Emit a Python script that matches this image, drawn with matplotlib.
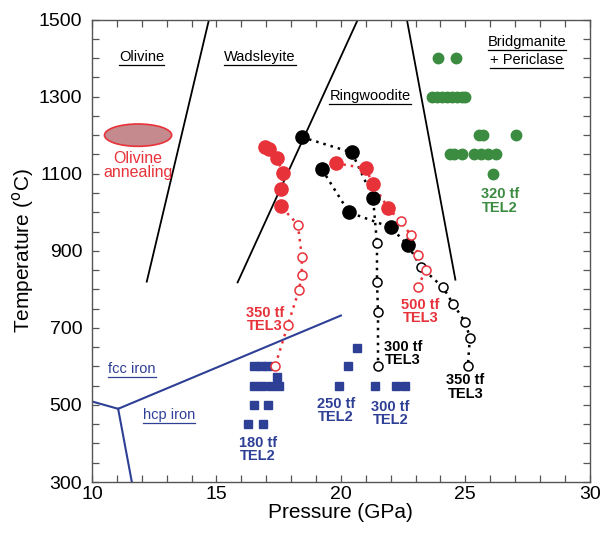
import numpy as np
import matplotlib.pyplot as plt
from matplotlib.patches import Ellipse
from matplotlib.lines import Line2D
from matplotlib.ticker import MultipleLocator

plt.rcParams['font.family'] = ['Liberation Sans', 'DejaVu Sans']

red = '#e8323a'
green = '#3b8b41'
blue = '#2e3f96'

# phase boundaries of olivine (P in GPa, T in C)
ol_wd_P = [12.2, 14.7]
ol_wd_T = [820, 1500]
wd_rw_P = [15.85, 20.68]
wd_rw_T = [818, 1500]
rw_bm_P = [22.65, 24.6]
rw_bm_T = [1500, 825]

# iron phase lines
iron_left_P = [10.0, 11.05]
iron_left_T = [509, 490]
iron_fcc_P = [11.05, 20.0]
iron_fcc_T = [490, 732]
iron_down_P = [11.05, 11.6]
iron_down_T = [490, 300]

# 350 tf TEL3 (red)
r350_P = [16.95, 17.1, 17.43, 17.67, 17.59, 17.59, 18.27, 18.43, 18.43, 18.31, 17.87, 17.35]
r350_T = [1168, 1163, 1140, 1101, 1059, 1015, 968, 885, 838, 797, 708, 600]
r350_nfill = 6

# 500 tf TEL3 (red)
r500_P = [19.8, 21.0, 21.29, 21.89, 22.4, 22.8, 23.1, 23.4, 23.1]
r500_T = [1127, 1114, 1072, 1012, 976, 942, 890, 851, 805]
r500_nfill = 4

# 300 tf TEL3 (black)
k300_P = [18.43, 20.44, 21.29, 21.45, 21.45, 21.49, 21.49]
k300_T = [1195, 1155, 1038, 919, 820, 742, 600]
k300_nfill = 3

# 350 tf TEL3 (black)
k350_P = [19.24, 20.32, 22.0, 22.7, 23.2, 24.1, 24.5, 25.0, 25.18, 25.1]
k350_T = [1111, 1000, 961, 914, 859, 805, 763, 714, 675, 600]
k350_nfill = 4

# 320 tf TEL2 (green)
g320_P = [23.9, 24.62,
          23.65, 23.85, 24.05, 24.25, 24.45, 24.65, 24.85, 25.0,
          25.54, 25.7, 27.05,
          24.4, 24.55, 24.86, 25.34, 25.62, 25.9, 26.22,
          26.1]
g320_T = [1400, 1400,
          1300, 1300, 1300, 1300, 1300, 1300, 1300, 1300,
          1200, 1200, 1200,
          1150, 1150, 1150, 1150, 1150, 1150, 1150,
          1100]

# TEL2 runs (blue)
b180_P = [16.51, 16.79, 17.07, 17.43, 16.51, 16.83, 17.19, 17.51, 16.51, 17.07, 16.27, 16.87]
b180_T = [600, 600, 600, 573, 550, 550, 550, 550, 500, 500, 450, 450]
b250_P = [20.64, 20.28, 19.92]
b250_T = [648, 600, 550]
b300_P = [21.37, 22.2, 22.57]
b300_T = [550, 550, 550]

fig = plt.figure(figsize=(6.03, 5.35), dpi=100)
ax = fig.add_axes([0.1526, 0.099, 0.8255, 0.8645])

ax.plot(ol_wd_P, ol_wd_T, '-k', lw=1.3)
ax.plot(wd_rw_P, wd_rw_T, '-k', lw=1.3)
ax.plot(rw_bm_P, rw_bm_T, '-k', lw=1.3)
ax.plot(iron_left_P, iron_left_T, '-', color=blue, lw=1.5)
ax.plot(iron_fcc_P, iron_fcc_T, '-', color=blue, lw=1.5)
ax.plot(iron_down_P, iron_down_T, '-', color=blue, lw=1.5)

ax.add_patch(Ellipse((11.85, 1200), 2.7, 58, facecolor='#c48a8d', edgecolor=red, lw=1.2))


def run(P, T, n, c):
    ax.plot(P, T, ls=(0, (1, 2)), color=c, lw=1.8, zorder=3)
    ax.plot(P[:n], T[:n], 'o', color=c, ms=9.5, mec=c, zorder=4)
    ax.plot(P[n:], T[n:], 'o', mfc='white', mec=c, ms=6.5, mew=1.1, zorder=4)


run(r350_P, r350_T, r350_nfill, red)
run(k300_P, k300_T, k300_nfill, 'k')
run(k350_P, k350_T, k350_nfill, 'k')
run(r500_P, r500_T, r500_nfill, red)

ax.plot(g320_P, g320_T, 'o', color=green, ms=7.5, ls='')
for P, T in [(b180_P, b180_T), (b250_P, b250_T), (b300_P, b300_T)]:
    ax.plot(P, T, 's', color=blue, ms=6, ls='')

ax.set_xlim(10, 30)
ax.set_ylim(300, 1500)
ax.set_xticks([10, 15, 20, 25, 30])
ax.set_yticks(range(300, 1501, 200))
ax.xaxis.set_minor_locator(MultipleLocator(1))
ax.yaxis.set_minor_locator(MultipleLocator(50))
ax.tick_params(which='both', direction='in', top=True, right=True, length=5, width=0.9,
               color='#555555', labelsize=14)
ax.tick_params(axis='x', pad=3)
ax.tick_params(axis='y', pad=7)
for s in ax.spines.values():
    s.set_color('#555555')
    s.set_linewidth(1.0)
ax.set_xlabel('Pressure (GPa)', fontsize=15, labelpad=0)
ax.set_ylabel('Temperature ($^{\\rm o}$C)', fontsize=15, labelpad=2)

# phase names, underlined
ul = []
ul.append(ax.text(12.0, 1402, 'Olivine', fontsize=10.5, ha='center', va='center'))
ul.append(ax.text(16.75, 1404, 'Wadsleyite', fontsize=10.5, ha='center', va='center'))
ul.append(ax.text(21.17, 1302, 'Ringwoodite', fontsize=10.5, ha='center', va='center'))
ul.append(ax.text(27.47, 1441, 'Bridgmanite', fontsize=10.5, ha='center', va='center'))
ul.append(ax.text(27.47, 1394, '+ Periclase', fontsize=10.5, ha='center', va='center'))
ul.append(ax.text(11.6, 593, 'fcc iron', fontsize=10.5, ha='center', va='center', color=blue))
ul.append(ax.text(13.1, 474, 'hcp iron', fontsize=10.5, ha='center', va='center', color=blue))

ax.text(11.85, 1122, 'Olivine\nannealing', fontsize=11.5, color=red, ha='center', va='center',
        linespacing=0.95)

lab = dict(fontsize=10.5, fontweight='bold', ha='center', va='center', linespacing=0.95)
ax.text(16.95, 722, '350 tf\nTEL3', color=red, **lab)
ax.text(23.2, 742, '500 tf\nTEL3', color=red, **lab)
ax.text(22.5, 633, '300 tf\nTEL3', color='k', **lab)
ax.text(25.0, 546, '350 tf\nTEL3', color='k', **lab)
ax.text(26.4, 1029, '320 tf\nTEL2', color=green, **lab)
ax.text(16.67, 385, '180 tf\nTEL2', color=blue, **lab)
ax.text(19.8, 486, '250 tf\nTEL2', color=blue, **lab)
ax.text(22.0, 478, '300 tf\nTEL2', color=blue, **lab)

fig.canvas.draw()
r = fig.canvas.get_renderer()
inv = fig.transFigure.inverted()
for t in ul:
    bb = t.get_window_extent(r)
    (x0, y0), (x1, y1) = inv.transform([(bb.x0, bb.y0 - 1), (bb.x1, bb.y0 - 1)])
    fig.add_artist(Line2D([x0, x1], [y0, y1], color=t.get_color(), lw=0.9))

fig.savefig('out.png', dpi=100)
